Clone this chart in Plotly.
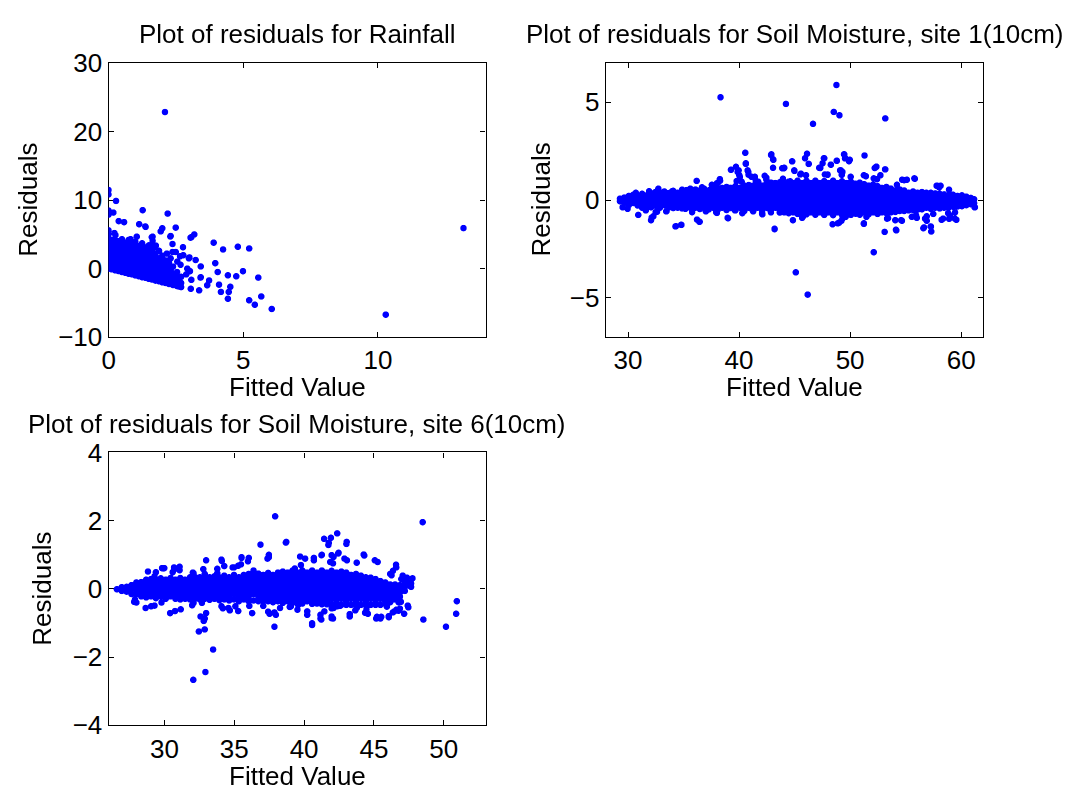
import plotly.graph_objects as go

# ---------------------------------------------------------------------------
# Rainfall model: residuals vs fitted values
# dense part of the cloud, stored column by column: (fitted value, [residuals])
rain_core = [
    (0.00, [0.0, 0.5, 1.1, 1.6, 2.2, 2.8, 3.3, 3.9, 4.4, 5.0, 5.6]),
    (0.12, [-0.1, 0.4, 0.9, 1.5, 2.1, 2.6, 3.2, 3.7, 4.2]),
    (0.25, [-0.25, 0.3, 0.8, 1.4, 1.9, 2.5, 3.0, 3.6, 4.1]),
    (0.37, [-0.35, 0.2, 0.7, 1.3, 1.8, 2.4, 3.0, 3.5, 4.0]),
    (0.50, [-0.5, 0.0, 0.6, 1.1, 1.7, 2.2, 2.8, 3.3, 3.9, 4.3]),
    (0.62, [-0.6, -0.1, 0.5, 1.0, 1.6, 2.1, 2.7, 3.2, 3.8]),
    (0.75, [-0.75, -0.2, 0.3, 0.9, 1.4, 2.0, 2.5, 3.1, 3.6, 4.2]),
    (0.88, [-0.85, -0.3, 0.2, 0.8, 1.3, 1.9, 2.4, 3.0, 3.5]),
    (1.00, [-1.0, -0.45, 0.1, 0.6, 1.2, 1.7, 2.3, 2.8, 3.4, 3.9]),
    (1.12, [-1.1, -0.55, 0.0, 0.5, 1.1, 1.6, 2.2, 2.7, 3.3]),
    (1.25, [-1.25, -0.7, -0.15, 0.4, 0.9, 1.5, 2.0, 2.6, 3.1, 3.7]),
    (1.38, [-1.35, -0.8, -0.25, 0.3, 0.8, 1.4, 1.9, 2.4, 3.0]),
    (1.50, [-1.5, -0.95, -0.4, 0.1, 0.7, 1.2, 1.8, 2.3, 2.9, 3.4]),
    (1.62, [-1.6, -1.05, -0.5, 0.0, 0.6, 1.1, 1.7, 2.5, 3.2]),
    (1.75, [-1.75, -1.2, -0.65, -0.1, 0.4, 1.0, 1.6, 2.2]),
    (1.88, [-1.85, -1.3, -0.75, -0.2, 0.3, 0.9, 1.5, 2.6]),
    (2.00, [-2.0, -1.45, -0.9, -0.35, 0.2, 0.8, 1.3, 1.9]),
    (2.12, [-2.1, -1.55, -1.0, -0.5, 0.1, 0.7, 1.2]),
    (2.25, [-2.25, -1.7, -1.15, -0.6, 0.0, 0.9]),
    (2.40, [-2.4, -1.85, -1.3, -0.7, 0.3]),
    (2.55, [-2.55, -2.0, -1.4, -0.5]),
    (2.70, [-2.7, -2.1, -1.2]),
]
# scattered observations
rain_fit = [2.10, 13.2, 10.31, 0.0, 0.0, 0.28, 0.0, 0.0, 0.18, 0.38, 0.58, 1.27,
            2.20, 1.14, 1.38, 2.0, 2.5, 1.94, 2.3, 1.61, 3.08, 3.19, 3.91, 4.81,
            5.23, 4.26, 3.97, 3.43, 5.0, 4.75, 4.44, 4.06, 3.43, 3.74, 3.67, 4.11,
            4.53, 4.18, 4.47, 4.44, 5.23, 5.44, 5.68, 5.57, 6.07, 3.37, 3.08, 3.06,
            2.77, 3.01, 2.93, 2.62, 2.89, 2.44, 2.31, 2.5, 2.17, 1.76, 1.69, 2.38,
            2.66, 0.22, 0.26, 1.05, 0.82, 1.64, 1.64, 1.37, 2.31, 3.05, 3.24, 2.99,
            2.78, 2.56, 2.68, 2.31, 2.5, 2.56, 2.6, 3.42, 3.03, 1.33, 1.7, 2.38]
rain_res = [22.9, 5.93, -6.73, 11.5, 10.85, 9.9, 8.5, 7.9, 8.2, 6.95, 6.8, 8.55,
            8.05, 6.5, 6.1, 5.9, 6.0, 5.45, 4.7, 4.6, 4.6, 5.0, 3.8, 3.2,
            2.95, 2.8, 0.8, 0.32, -0.37, -1.12, -0.98, -0.5, -1.26, -1.73, -2.43, -2.34,
            -2.66, -3.41, -3.41, -4.4, -4.63, -5.28, -4.07, -1.31, -5.9, -3.18, -1.64, -2.95,
            3.13, 1.64, 0.0, -2.62, -0.84, -0.75, 1.5, 2.43, 2.2, 3.37, 3.1, 3.6,
            1.8, 5.2, 4.9, 4.67, 4.3, 4.07, 4.67, 6.17, 4.77, 4.53, 1.26, 1.5,
            1.96, 1.03, 0.56, -0.14, -0.84, -1.78, -2.48, -1.31, -0.37, 3.13, 3.13, 2.43]

# ---------------------------------------------------------------------------
# Soil moisture, site 1 (10cm)
sm1_core = [
    (29.3, [-0.05, 0.08]),
    (29.7, [-0.12, 0.0, 0.14]),
    (30.1, [-0.25, 0.0, 0.22]),
    (30.5, [-0.14, 0.12, 0.28]),
    (30.9, [-0.27, 0.0, 0.25]),
    (31.3, [-0.38, -0.12, 0.12, 0.33]),
    (31.7, [-0.25, 0.0, 0.25]),
    (32.1, [-0.36, -0.12, 0.12, 0.36]),
    (32.5, [-0.28, 0.0, 0.25, 0.42]),
    (32.9, [-0.38, -0.12, 0.12, 0.38]),
    (33.3, [-0.25, 0.0, 0.25, 0.45]),
    (33.7, [-0.37, -0.12, 0.12, 0.37]),
    (34.1, [-0.4, -0.25, 0.0, 0.25, 0.48]),
    (34.5, [-0.38, -0.12, 0.12, 0.38]),
    (34.9, [-0.42, -0.25, 0.0, 0.25, 0.47]),
    (35.3, [-0.38, -0.12, 0.12, 0.38, 0.52]),
    (35.7, [-0.4, -0.25, 0.0, 0.25, 0.48]),
    (36.1, [-0.38, -0.12, 0.12, 0.38, 0.55]),
    (36.5, [-0.45, -0.25, 0.0, 0.25, 0.5]),
    (36.9, [-0.38, -0.12, 0.12, 0.38, 0.58]),
    (37.3, [-0.47, -0.25, 0.0, 0.25, 0.5]),
    (37.7, [-0.38, -0.12, 0.12, 0.38, 0.62]),
    (38.1, [-0.5, -0.25, 0.0, 0.25, 0.5, 0.6]),
    (38.5, [-0.38, -0.12, 0.12, 0.38, 0.63]),
    (38.9, [-0.5, -0.25, 0.0, 0.25, 0.5, 0.68]),
    (39.3, [-0.4, -0.12, 0.12, 0.38, 0.63]),
    (39.7, [-0.52, -0.25, 0.0, 0.25, 0.5, 0.72]),
    (40.1, [-0.38, -0.12, 0.12, 0.38, 0.63]),
    (40.5, [-0.55, -0.25, 0.0, 0.25, 0.5, 0.75]),
    (40.9, [-0.38, -0.12, 0.12, 0.38, 0.63, 0.78]),
    (41.3, [-0.57, -0.25, 0.0, 0.25, 0.5, 0.75]),
    (41.7, [-0.38, -0.12, 0.12, 0.38, 0.63, 0.82]),
    (42.1, [-0.6, -0.5, -0.25, 0.0, 0.25, 0.5, 0.75]),
    (42.5, [-0.38, -0.12, 0.12, 0.38, 0.63, 0.85]),
    (42.9, [-0.62, -0.5, -0.25, 0.0, 0.25, 0.5, 0.75, 0.9]),
    (43.3, [-0.38, -0.12, 0.12, 0.38, 0.63, 0.88]),
    (43.7, [-0.63, -0.5, -0.25, 0.0, 0.25, 0.5, 0.75, 0.92]),
    (44.1, [-0.62, -0.38, -0.12, 0.12, 0.38, 0.63, 0.88]),
    (44.5, [-0.66, -0.5, -0.25, 0.0, 0.25, 0.5, 0.75, 0.95]),
    (44.9, [-0.62, -0.38, -0.12, 0.12, 0.38, 0.63, 0.88]),
    (45.3, [-0.7, -0.5, -0.25, 0.0, 0.25, 0.5, 0.75, 1.0]),
    (45.7, [-0.62, -0.38, -0.12, 0.12, 0.38, 0.63, 0.88]),
    (46.1, [-0.72, -0.5, -0.25, 0.0, 0.25, 0.5, 0.75, 1.0]),
    (46.5, [-0.62, -0.38, -0.12, 0.12, 0.38, 0.63, 0.88]),
    (46.9, [-0.74, -0.5, -0.25, 0.0, 0.25, 0.5, 0.75, 1.0]),
    (47.3, [-0.62, -0.38, -0.12, 0.12, 0.38, 0.63, 0.88]),
    (47.7, [-0.75, -0.5, -0.25, 0.0, 0.25, 0.5, 0.75, 0.98]),
    (48.1, [-0.62, -0.38, -0.12, 0.12, 0.38, 0.63, 0.88]),
    (48.5, [-0.76, -0.5, -0.25, 0.0, 0.25, 0.5, 0.75, 1.0]),
    (48.9, [-0.62, -0.38, -0.12, 0.12, 0.38, 0.63, 0.88]),
    (49.3, [-0.75, -0.5, -0.25, 0.0, 0.25, 0.5, 0.75, 0.97]),
    (49.7, [-0.62, -0.38, -0.12, 0.12, 0.38, 0.63, 0.88]),
    (50.1, [-0.75, -0.5, -0.25, 0.0, 0.25, 0.5, 0.75, 0.95]),
    (50.5, [-0.62, -0.38, -0.12, 0.12, 0.38, 0.63, 0.85]),
    (50.9, [-0.74, -0.5, -0.25, 0.0, 0.25, 0.5, 0.75, 0.9]),
    (51.3, [-0.62, -0.38, -0.12, 0.12, 0.38, 0.63, 0.82]),
    (51.7, [-0.72, -0.5, -0.25, 0.0, 0.25, 0.5, 0.75]),
    (52.1, [-0.62, -0.38, -0.12, 0.12, 0.38, 0.63, 0.8]),
    (52.5, [-0.7, -0.5, -0.25, 0.0, 0.25, 0.5, 0.72]),
    (52.9, [-0.62, -0.38, -0.12, 0.12, 0.38, 0.63]),
    (53.3, [-0.66, -0.5, -0.25, 0.0, 0.25, 0.5, 0.68]),
    (53.7, [-0.62, -0.38, -0.12, 0.12, 0.38, 0.6]),
    (54.1, [-0.6, -0.5, -0.25, 0.0, 0.25, 0.5]),
    (54.5, [-0.55, -0.38, -0.12, 0.12, 0.38, 0.55]),
    (54.9, [-0.55, -0.25, 0.0, 0.25, 0.5]),
    (55.3, [-0.52, -0.38, -0.12, 0.12, 0.38]),
    (55.7, [-0.5, -0.25, 0.0, 0.25, 0.45]),
    (56.1, [-0.48, -0.38, -0.12, 0.12, 0.38]),
    (56.5, [-0.46, -0.25, 0.0, 0.25, 0.42]),
    (56.9, [-0.38, -0.12, 0.12, 0.38]),
    (57.3, [-0.44, -0.25, 0.0, 0.25, 0.38]),
    (57.7, [-0.38, -0.12, 0.12, 0.35]),
    (58.1, [-0.42, -0.25, 0.0, 0.25, 0.33]),
    (58.5, [-0.38, -0.12, 0.12, 0.3]),
    (58.9, [-0.38, -0.25, 0.0, 0.25]),
    (59.3, [-0.33, -0.12, 0.12, 0.28]),
    (59.7, [-0.32, -0.1, 0.05, 0.22]),
    (60.1, [-0.3, -0.12, 0.12, 0.25]),
    (60.5, [-0.25, 0.0, 0.18]),
    (60.9, [-0.2, -0.05, 0.12]),
    (61.2, [-0.15, 0.05]),
]
sm1_fit = [38.36, 44.25, 48.8, 48.56, 49.07, 46.69, 53.2, 45.14, 46.21, 52.16,
           40.59, 42.91, 43.12, 44.81, 46.15, 45.97, 46.3, 47.67, 48.83, 49.48,
           49.6, 50.0, 51.33, 39.75, 40.64, 39.3, 39.99, 40.1, 40.8, 40.88,
           41.15, 43.09, 43.92, 44.1, 45.02, 47.25, 48.3, 47.76, 49.13, 49.28,
           52.34, 53.18, 51.45, 54.72, 55.14, 55.86, 57.88, 58.18, 36.21, 38.3,
           38.12, 37.64, 36.84, 32.76, 42.34, 42.49, 41.75, 43.98, 44.63, 45.55,
           48.0, 52.46, 30.95, 32.16, 32.1, 32.64, 33.47, 34.34, 34.81, 36.45,
           37.04, 38.03, 39.04, 42.1, 43.23, 44.13, 45.71, 48.45, 48.92, 49.25,
           51.27, 53.14, 54.16, 53.45, 54.7, 55.59, 55.97, 56.69, 57.31, 57.34,
           56.93, 58.27, 58.95, 59.6, 59.48, 59.0, 61.27, 57.52, 50.53, 51.51,
           40.64, 42.94, 43.09, 44.07, 39.3, 39.9, 40.05, 40.86, 41.45, 42.49,
           39.81, 40.26, 41.54, 38.32, 38.03, 37.58, 37.43, 39.21, 38.63, 40.7,
           41.75, 42.5, 43.23, 32.31, 33.5, 34.3, 34.84, 36.24, 36.48, 37.96,
           39.0, 40.32, 42.13, 43.23, 44.13, 29.54, 29.99, 31.63, 32.52, 35.2,
           35.8, 37.88, 39.66, 41.15, 42.64, 30.73, 31.93, 34.0, 34.9, 35.64,
           36.69, 47.7, 47.55, 49.5, 49.57, 49.93, 44.81, 46.3, 48.3, 48.83,
           49.2, 49.34, 47.34, 48.0, 52.25, 52.4, 53.2, 54.9, 55.82, 57.82,
           58.05, 58.94, 44.04, 45.0, 45.6, 46.06, 50.08, 51.27, 52.16, 52.76,
           54.25, 54.19, 49.04, 51.27, 44.88, 45.77, 46.06, 49.34, 49.63, 51.5,
           51.66, 53.36, 54.1, 54.63, 56.04, 56.63, 57.29, 56.78, 56.93, 58.41,
           58.86, 59.46, 61.24]
sm1_res = [5.27, 4.93, 5.9, 4.52, 4.35, 3.91, 4.19, -3.69, -4.83, -2.66,
           2.43, 2.32, 2.07, 1.99, 2.38, 2.15, 1.86, 2.15, 2.02, 2.35,
           2.15, 2.07, 2.29, 1.71, 1.86, 1.56, 1.53, 1.2, 1.53, 1.31,
           1.2, 1.66, 1.64, 1.66, 1.5, 1.66, 1.82, 1.32, 1.53, 1.3,
           1.69, 1.58, 1.23, 1.05, 1.05, 1.1, 0.74, 0.74, 0.99, 1.08,
           0.89, 0.66, 0.6, 0.59, 1.25, 1.15, 0.95, 1.1, 0.97, 1.32,
           1.3, 1.08, -0.75, -0.89, -1.02, -0.59, -0.57, -1.33, -1.26, -1.1,
           -0.57, -0.65, -0.92, -0.69, -1.48, -0.57, -0.9, -1.23, -1.18, -1.05,
           -1.18, -1.62, -1.51, -0.92, -1.05, -0.85, -0.77, -1.39, -1.35, -1.6,
           -1.05, -1.0, -0.95, -1.0, -0.62, -0.77, -0.36, -0.7, -0.69, -0.77,
           1.89, 2.35, 2.1, 1.64, 1.56, 1.45, 1.28, 1.45, 1.2, 1.05,
           0.98, 0.95, 1.0, 1.0, 0.87, 0.79, 0.54, 0.63, 0.46, 0.54,
           0.66, 0.79, 0.87, -0.82, -0.56, -1.34, -1.26, -0.99, -1.1, -0.61,
           -0.9, -0.66, -0.72, -1.46, -0.61, -0.36, -0.44, -0.52, -0.61, -0.44,
           -0.61, -0.44, -0.52, -0.44, -0.41, 0.38, 0.46, 0.46, 0.54, 0.59,
           0.66, 2.15, 1.89, 2.35, 2.14, 2.0, 1.99, 1.86, 1.82, 2.02,
           1.53, 1.45, 1.65, 1.32, 1.65, 1.72, 1.58, 1.03, 1.12, 0.74,
           0.66, 0.54, 1.65, 1.53, 1.36, 1.28, 1.2, 1.28, 1.12, 1.28,
           0.79, -1.54, -1.15, -1.21, -1.02, -0.85, -0.72, -0.94, -0.85, -0.85,
           -0.72, -0.94, -1.02, -1.02, -0.9, -1.43, -1.34, -0.94, -0.82, -0.94,
           -0.66, -0.94, -0.36]

# ---------------------------------------------------------------------------
# Soil moisture, site 6 (10cm)
sm6_core = [
    (26.6, [0.0]),
    (26.95, [-0.05, 0.06]),
    (27.3, [-0.07, 0.07]),
    (27.65, [-0.14, 0.0, 0.12]),
    (28.0, [-0.14, -0.02, 0.1, 0.2]),
    (28.35, [-0.21, -0.07, 0.07, 0.21]),
    (28.7, [-0.24, -0.14, 0.0, 0.14, 0.28]),
    (29.05, [-0.21, -0.07, 0.07, 0.21, 0.3]),
    (29.4, [-0.26, -0.14, 0.0, 0.14, 0.28]),
    (29.75, [-0.21, -0.07, 0.07, 0.21, 0.32]),
    (30.1, [-0.28, -0.14, 0.0, 0.14, 0.28]),
    (30.45, [-0.21, -0.07, 0.07, 0.21, 0.33]),
    (30.8, [-0.28, -0.14, 0.0, 0.14, 0.28]),
    (31.15, [-0.3, -0.21, -0.07, 0.07, 0.21, 0.33]),
    (31.5, [-0.28, -0.14, 0.0, 0.14, 0.28]),
    (31.85, [-0.3, -0.21, -0.07, 0.07, 0.21, 0.35]),
    (32.2, [-0.28, -0.14, 0.0, 0.14, 0.28, 0.36]),
    (32.55, [-0.3, -0.21, -0.07, 0.07, 0.21, 0.35]),
    (32.9, [-0.28, -0.14, 0.0, 0.14, 0.28, 0.37]),
    (33.25, [-0.31, -0.21, -0.07, 0.07, 0.21, 0.35]),
    (33.6, [-0.28, -0.14, 0.0, 0.14, 0.28, 0.38]),
    (33.95, [-0.32, -0.21, -0.07, 0.07, 0.21, 0.35]),
    (34.3, [-0.3, -0.14, 0.0, 0.14, 0.28, 0.4]),
    (34.65, [-0.33, -0.21, -0.07, 0.07, 0.21, 0.35]),
    (35.0, [-0.3, -0.14, 0.0, 0.14, 0.28, 0.42]),
    (35.35, [-0.35, -0.21, -0.07, 0.07, 0.21, 0.35]),
    (35.7, [-0.3, -0.14, 0.0, 0.14, 0.28, 0.42]),
    (36.05, [-0.35, -0.21, -0.07, 0.07, 0.21, 0.35, 0.45]),
    (36.4, [-0.33, -0.14, 0.0, 0.14, 0.28, 0.42]),
    (36.75, [-0.35, -0.21, -0.07, 0.07, 0.21, 0.35, 0.46]),
    (37.1, [-0.36, -0.28, -0.14, 0.0, 0.14, 0.28, 0.42]),
    (37.45, [-0.35, -0.21, -0.07, 0.07, 0.21, 0.35, 0.48]),
    (37.8, [-0.38, -0.28, -0.14, 0.0, 0.14, 0.28, 0.42]),
    (38.15, [-0.35, -0.21, -0.07, 0.07, 0.21, 0.35, 0.49]),
    (38.5, [-0.4, -0.28, -0.14, 0.0, 0.14, 0.28, 0.42, 0.52]),
    (38.85, [-0.35, -0.21, -0.07, 0.07, 0.21, 0.35, 0.49]),
    (39.2, [-0.4, -0.28, -0.14, 0.0, 0.14, 0.28, 0.42, 0.55]),
    (39.55, [-0.35, -0.21, -0.07, 0.07, 0.21, 0.35, 0.49]),
    (39.9, [-0.42, -0.28, -0.14, 0.0, 0.14, 0.28, 0.42, 0.55]),
    (40.25, [-0.35, -0.21, -0.07, 0.07, 0.21, 0.35, 0.49]),
    (40.6, [-0.43, -0.28, -0.14, 0.0, 0.14, 0.28, 0.42, 0.55]),
    (40.95, [-0.42, -0.35, -0.21, -0.07, 0.07, 0.21, 0.35, 0.49]),
    (41.3, [-0.44, -0.28, -0.14, 0.0, 0.14, 0.28, 0.42, 0.55]),
    (41.65, [-0.44, -0.35, -0.21, -0.07, 0.07, 0.21, 0.35, 0.49]),
    (42.0, [-0.45, -0.28, -0.14, 0.0, 0.14, 0.28, 0.42, 0.54]),
    (42.35, [-0.45, -0.35, -0.21, -0.07, 0.07, 0.21, 0.35, 0.49]),
    (42.7, [-0.46, -0.28, -0.14, 0.0, 0.14, 0.28, 0.42, 0.52]),
    (43.05, [-0.46, -0.35, -0.21, -0.07, 0.07, 0.21, 0.35, 0.49]),
    (43.4, [-0.46, -0.28, -0.14, 0.0, 0.14, 0.28, 0.42]),
    (43.75, [-0.46, -0.35, -0.21, -0.07, 0.07, 0.21, 0.35, 0.45]),
    (44.1, [-0.46, -0.28, -0.14, 0.0, 0.14, 0.28, 0.4]),
    (44.45, [-0.46, -0.35, -0.21, -0.07, 0.07, 0.21, 0.35]),
    (44.8, [-0.46, -0.28, -0.14, 0.0, 0.14, 0.28, 0.34]),
    (45.15, [-0.46, -0.35, -0.21, -0.07, 0.07, 0.21, 0.3]),
    (45.5, [-0.46, -0.28, -0.14, 0.0, 0.14, 0.24]),
    (45.85, [-0.42, -0.35, -0.21, -0.07, 0.07, 0.2]),
    (46.2, [-0.38, -0.28, -0.14, 0.0, 0.14]),
    (46.55, [-0.3, -0.21, -0.07, 0.07, 0.14]),
    (46.9, [-0.22, -0.1, 0.0, 0.12]),
    (47.25, [-0.05, 0.07, 0.17]),
    (47.6, [0.1, 0.18]),
]
sm6_fit = [37.95, 48.53, 50.98, 50.93, 50.2, 48.58, 32.08, 32.95, 33.5, 32.48,
           32.9, 32.6, 32.9, 33.0, 32.7, 36.9, 38.75, 42.4, 41.95, 41.46,
           41.77, 43.06, 42.47, 42.0, 42.1, 41.27, 44.34, 45.1, 45.3, 37.5,
           37.5, 35.54, 36.0, 34.1, 33.0, 39.36, 39.8, 40.1, 40.73, 41.9,
           43.1, 43.8, 46.63, 46.3, 47.0, 47.7, 47.3, 30.7, 30.7, 29.84,
           30.0, 28.83, 29.4, 30.6, 32.05, 33.8, 34.3, 34.9, 35.5, 36.4,
           30.42, 30.77, 29.3, 32.1, 34.1, 34.6, 35.1, 35.3, 36.1, 37.1,
           37.45, 37.9, 37.9, 38.3, 39.0, 39.6, 40.25, 40.6, 40.6, 41.2,
           41.26, 42.0, 42.0, 42.1, 42.6, 43.3, 43.8, 44.6, 45.2, 45.5,
           46.1, 46.5, 46.8, 47.2, 47.5, 46.8, 29.8, 27.9, 34.13, 35.54,
           36.06, 37.4, 29.93, 31.1, 31.1, 32.1, 32.8, 32.9, 33.8, 35.0,
           35.3, 29.3, 27.84, 28.0, 28.66, 29.06, 31.18, 32.0, 32.83, 34.2,
           34.7, 36.3, 37.55, 38.0, 41.8, 43.08, 39.74, 40.73, 41.3, 42.14,
           42.5, 42.92, 44.3, 46.62, 46.4, 46.2, 47.1, 47.4, 47.8, 47.28,
           38.72, 41.48, 42.0, 41.2, 41.2, 39.55, 40.25, 39.08, 42.14, 42.4,
           43.3, 43.7, 44.4, 44.5, 45.25, 45.56, 46.1, 46.65, 46.9, 47.46,
           45.96, 46.39, 46.97, 47.7]
sm6_res = [2.14, 1.97, -0.35, -0.72, -1.1, -0.89, -2.66, -2.43, -1.77, -1.24,
           -1.18, -0.8, -0.86, -0.7, -0.4, 1.31, 1.39, 1.64, 1.51, 1.48,
           1.3, 1.33, 1.05, 1.0, 0.76, 1.0, 0.99, 0.85, 0.8, 1.01,
           0.94, 0.94, 0.82, 0.87, 0.85, 0.61, 0.71, 0.9, 0.85, 0.8,
           0.85, 0.78, 0.64, 0.41, 0.3, 0.17, 0.22, 0.64, 0.58, 0.62,
           0.62, 0.52, 0.5, 0.5, 0.49, 0.6, 0.68, 0.64, 0.73, 0.55,
           -0.7, -0.64, -0.48, -0.4, -0.5, -0.55, -0.5, -0.64, -0.49, -0.49,
           -0.66, -0.68, -1.1, -0.55, -0.52, -0.46, -0.75, -1.0, -1.05, -0.76,
           -0.89, -0.56, -0.8, -0.86, -0.49, -0.8, -0.55, -0.72, -0.86, -0.86,
           -0.82, -0.65, -0.63, -0.72, -0.53, -0.38, -0.39, -0.3, 0.83, 0.92,
           0.92, 0.9, 0.61, 0.66, 0.56, 0.47, 0.59, 0.45, 0.47, 0.64,
           0.69, 0.38, -0.37, -0.39, -0.55, -0.5, -0.59, -0.47, -0.93, -0.56,
           -0.62, -0.7, -0.72, -0.75, 1.36, 1.39, 0.96, 0.92, 1.01, 0.95,
           1.07, 0.9, 1.02, 0.72, 0.54, 0.45, 0.4, 0.34, 0.32, 0.13,
           1.37, -0.65, -0.85, -0.75, -0.86, -0.6, -0.65, -0.5, -0.55, -0.5,
           -0.73, -0.62, -0.69, -0.59, -0.81, -0.81, -0.79, -0.6, -0.57, -0.48,
           -0.51, -0.68, -0.37, 0.07]


def spread(columns):
    """Flatten (fitted value, [residuals]) columns into two point lists."""
    xs, ys = [], []
    for fitted, residuals in columns:
        xs.extend([fitted] * len(residuals))
        ys.extend(residuals)
    return xs, ys


FONT = "Liberation Sans, Arial, Helvetica, sans-serif"
DOT = dict(color="#0000ff", size=6.5, line=dict(width=0))

fig = go.Figure()
panels = [
    (rain_core, rain_fit, rain_res, "x", "y"),
    (sm1_core, sm1_fit, sm1_res, "x2", "y2"),
    (sm6_core, sm6_fit, sm6_res, "x3", "y3"),
]
for core, fit, res, xa, ya in panels:
    cx, cy = spread(core)
    fig.add_trace(go.Scattergl(x=cx + fit, y=cy + res, mode="markers",
                               marker=DOT, xaxis=xa, yaxis=ya,
                               showlegend=False, hoverinfo="x+y"))

W, H = 1086, 810


def px_x(p):
    return p / W


def px_y(p):
    return 1 - p / H


axis_common = dict(showline=True, linecolor="black", linewidth=1.3,
                   mirror="ticks", ticks="inside", ticklen=5, tickwidth=1,
                   tickcolor="black", showgrid=False, zeroline=False,
                   tickfont=dict(family=FONT, size=26, color="black"),
                   fixedrange=True)

dom1x = [px_x(102.3), px_x(481.7)]
dom2x = [px_x(602.7), px_x(982.7)]
top_y = [px_y(334.3), px_y(50)]
bot_y = [px_y(737.7), px_y(454.3)]

fig.update_layout(
    width=W, height=H,
    margin=dict(l=0, r=0, t=0, b=0),
    paper_bgcolor="white", plot_bgcolor="white",
    font=dict(family=FONT, size=26, color="black"),
    xaxis=dict(domain=dom1x, range=[0, 14], tickvals=[0, 5, 10], anchor="y", **axis_common),
    yaxis=dict(domain=top_y, range=[-10, 30], tickvals=[-10, 0, 10, 20, 30], anchor="x", **axis_common),
    xaxis2=dict(domain=dom2x, range=[28, 62], tickvals=[30, 40, 50, 60], anchor="y2", **axis_common),
    yaxis2=dict(domain=top_y, range=[-7, 7], tickvals=[-5, 0, 5], anchor="x2", **axis_common),
    xaxis3=dict(domain=dom1x, range=[26, 53], tickvals=[30, 35, 40, 45, 50], anchor="y3", **axis_common),
    yaxis3=dict(domain=bot_y, range=[-4, 4], tickvals=[-4, -2, 0, 2, 4], anchor="x3", **axis_common),
)

text_font = dict(family=FONT, size=26, color="black")
labels = [
    ("Plot of residuals for Rainfall", 292, 20, 0),
    ("Plot of residuals for Soil Moisture, site 1(10cm)", 793, 20, 0),
    ("Plot of residuals for Soil Moisture, site 6(10cm)", 292, 425, 0),
    ("Fitted Value", 292, 386, 0),
    ("Fitted Value", 793, 386, 0),
    ("Fitted Value", 292, 790, 0),
    ("Residuals", 21, 192, -90),
    ("Residuals", 537, 192, -90),
    ("Residuals", 35, 596, -90),
]
for text, cx, cy, angle in labels:
    fig.add_annotation(text=text, x=px_x(cx), y=px_y(cy), xref="paper", yref="paper",
                       xanchor="center", yanchor="middle", showarrow=False,
                       textangle=angle, font=text_font)

fig.write_html("out.html")
